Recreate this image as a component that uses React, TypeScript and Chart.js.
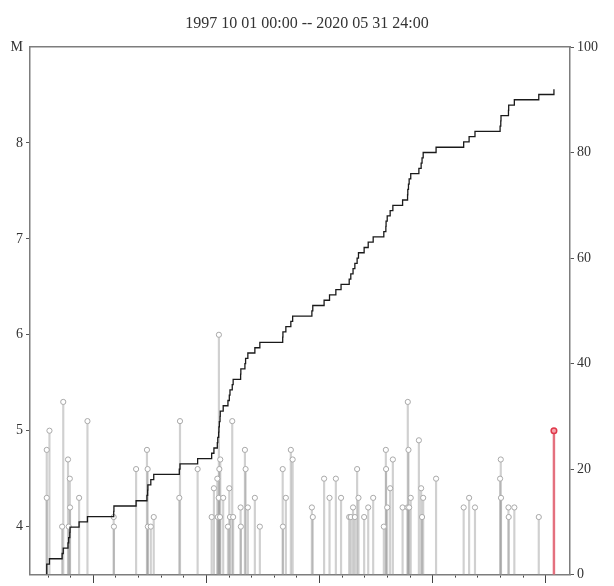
import React, { useEffect, useRef } from 'react';
import { Chart, registerables } from 'chart.js';

Chart.register(...registerables);

const titleText = '1997 10 01 00:00 -- 2020 05 31 24:00';

// Event times (decimal years) and magnitudes
const eventYears = [
  1997.94, 1997.94, 1998.06, 1998.62, 1998.67, 1998.88, 1998.91, 1998.96, 1998.97, 1999.37,
  1999.74, 2000.90, 2000.91, 2001.89, 2002.37, 2002.40, 2002.41, 2002.54, 2002.67, 2003.80,
  2003.83, 2004.61, 2005.23, 2005.33, 2005.48, 2005.50, 2005.54, 2005.55, 2005.57, 2005.60,
  2005.61, 2005.74, 2005.95, 2006.01, 2006.04, 2006.14, 2006.18, 2006.51, 2006.52, 2006.70,
  2006.73, 2006.83, 2007.14, 2007.36, 2008.37, 2008.38, 2008.51, 2008.73, 2008.81, 2009.66,
  2009.70, 2010.20, 2010.44, 2010.72, 2010.95, 2011.31, 2011.38, 2011.48, 2011.56, 2011.66,
  2011.72, 2011.97, 2012.15, 2012.37, 2012.84, 2012.93, 2012.94, 2012.99, 2013.12, 2013.24,
  2013.67, 2013.89, 2013.90, 2013.93, 2013.96, 2014.03, 2014.39, 2014.49, 2014.53, 2014.58,
  2015.15, 2016.37, 2016.61, 2016.87, 2017.98, 2018.01, 2018.02, 2018.35, 2018.36, 2018.61,
  2019.69,
];
const eventMags = [
  4.8, 4.3, 5.0, 4.0, 5.3, 4.7, 4.0, 4.5, 4.2, 4.3,
  5.1, 4.1, 4.0, 4.6, 4.8, 4.6, 4.0, 4.0, 4.1, 4.3,
  5.1, 4.6, 4.1, 4.4, 4.5, 4.1, 4.3, 6.0, 4.6, 4.1,
  4.7, 4.3, 4.0, 4.4, 4.1, 5.1, 4.1, 4.2, 4.0, 4.8,
  4.6, 4.2, 4.3, 4.0, 4.6, 4.0, 4.3, 4.8, 4.7, 4.2,
  4.1, 4.5, 4.3, 4.5, 4.3, 4.1, 4.1, 4.2, 4.1, 4.6,
  4.3, 4.1, 4.2, 4.3, 4.0, 4.8, 4.6, 4.2, 4.4, 4.7,
  4.2, 4.2, 5.3, 4.8, 4.2, 4.3, 4.9, 4.4, 4.1, 4.3,
  4.5, 4.2, 4.3, 4.2, 4.5, 4.7, 4.3, 4.2, 4.1, 4.2,
  4.1,
];
const latestYear = 2020.36;
const latestMag = 5.0;

const magTickValues = [4, 5, 6, 7, 8, 9];
const magTopLabel = 'M';
const countTickValues = [0, 20, 40, 60, 80, 100];
const yearMinorTicks = [
  1998, 1999, 2000, 2001, 2002, 2003, 2004, 2005, 2006, 2007, 2008, 2009,
  2010, 2011, 2012, 2013, 2014, 2015, 2016, 2017, 2018, 2019, 2020,
];
const yearMajorTicks = [2000, 2005, 2010, 2015, 2020];

const yearMin = 1997.2;
const yearMax = 2021.07;
const magMin = 3.5;
const magMax = 9;
const countMin = 0;
const countMax = 100;

const FONT = 'Liberation Serif';
const AXIS_COLOR = '#7d7d7d';
const TEXT_COLOR = '#333333';

export default function App() {
  const canvasRef = useRef<HTMLCanvasElement | null>(null);

  useEffect(() => {
    const canvas = canvasRef.current;
    if (!canvas) return;
    Chart.defaults.font.family = FONT;

    const allYears = [...eventYears, latestYear];
    const cumulative = [
      { x: allYears[0], y: 0 },
      ...allYears.map((t, i) => ({ x: t, y: i + 1 })),
    ];

    const chart = new Chart(canvas, {
      type: 'scatter',
      data: {
        datasets: [
          {
            type: 'line',
            data: cumulative,
            xAxisID: 'x',
            yAxisID: 'yCount',
            borderColor: '#1a1a1a',
            borderWidth: 1.3,
            stepped: 'before',
            pointRadius: 0,
            fill: false,
            order: 0,
          } as any,
          {
            type: 'scatter',
            data: [{ x: latestYear, y: latestMag }],
            xAxisID: 'x',
            yAxisID: 'y',
            pointRadius: 2.8,
            borderWidth: 1.5,
            borderColor: '#e0384a',
            backgroundColor: '#f4a3ab',
            order: 1,
          },
          {
            type: 'scatter',
            data: eventYears.map((t, i) => ({ x: t, y: eventMags[i] })),
            xAxisID: 'x',
            yAxisID: 'y',
            pointRadius: 2.6,
            borderWidth: 1,
            borderColor: '#a9a9a9',
            backgroundColor: '#ffffff',
            order: 2,
          },
          {
            type: 'bar',
            data: [{ x: latestYear, y: [magMin, latestMag] }],
            xAxisID: 'x',
            yAxisID: 'y',
            backgroundColor: '#e4707e',
            barThickness: 1.8,
            grouped: false,
            order: 3,
          } as any,
          {
            type: 'bar',
            data: eventYears.map((t, i) => ({ x: t, y: [magMin, eventMags[i]] })),
            xAxisID: 'x',
            yAxisID: 'y',
            backgroundColor: 'rgba(150,150,150,0.45)',
            barThickness: 1.5,
            grouped: false,
            order: 4,
          } as any,
        ],
      },
      options: {
        animation: false,
        responsive: true,
        maintainAspectRatio: false,
        layout: { padding: 0 },
        events: [],
        plugins: {
          legend: { display: false },
          tooltip: { enabled: false },
          title: {
            display: true,
            text: titleText,
            color: TEXT_COLOR,
            font: { family: FONT, size: 16, weight: 'normal', lineHeight: 1.2 },
            padding: { top: 14, bottom: 13.8 },
          },
        },
        scales: {
          x: {
            type: 'linear',
            position: 'bottom',
            min: yearMin,
            max: yearMax,
            offset: false,
            afterBuildTicks: (s: any) => {
              s.ticks = yearMinorTicks.map((v) => ({ value: v }));
            },
            ticks: { display: false },
            grid: {
              display: true,
              drawOnChartArea: false,
              drawTicks: true,
              tickLength: 3,
              tickColor: '#444444',
              tickWidth: 1,
              offset: false,
            },
            border: { display: true, color: AXIS_COLOR, width: 1.5 },
            afterFit: (s: any) => {
              s.height = 7;
            },
          },
          xMajor: {
            type: 'linear',
            position: { y: magMin },
            min: yearMin,
            max: yearMax,
            offset: false,
            afterBuildTicks: (s: any) => {
              s.ticks = yearMajorTicks.map((v) => ({ value: v }));
            },
            ticks: { display: false },
            grid: {
              display: true,
              drawOnChartArea: false,
              drawTicks: true,
              tickLength: 8,
              tickColor: '#444444',
              tickWidth: 1,
            },
            border: { display: false },
          } as any,
          xTop: {
            type: 'linear',
            position: 'top',
            min: yearMin,
            max: yearMax,
            ticks: { display: false },
            grid: { display: false, drawTicks: false },
            border: { display: true, color: AXIS_COLOR, width: 1.5 },
            afterFit: (s: any) => {
              s.height = 0;
            },
          },
          y: {
            type: 'linear',
            position: 'left',
            min: magMin,
            max: magMax,
            afterBuildTicks: (s: any) => {
              s.ticks = magTickValues.map((v) => ({ value: v }));
            },
            ticks: {
              color: TEXT_COLOR,
              font: { family: FONT, size: 14 },
              padding: 3,
              callback: (v: any) => (Number(v) === magMax ? magTopLabel : String(v)),
            },
            grid: {
              drawOnChartArea: false,
              drawTicks: true,
              tickLength: 4,
              tickWidth: 1,
              tickColor: (ctx: any) =>
                ctx.tick && ctx.tick.value === magMax ? 'rgba(0,0,0,0)' : '#555555',
            },
            border: { display: true, color: AXIS_COLOR, width: 1.5 },
            afterFit: (s: any) => {
              s.width = 30;
            },
          },
          yCount: {
            type: 'linear',
            position: 'right',
            min: countMin,
            max: countMax,
            afterBuildTicks: (s: any) => {
              s.ticks = countTickValues.map((v) => ({ value: v }));
            },
            ticks: {
              color: TEXT_COLOR,
              font: { family: FONT, size: 14 },
              padding: 3,
            },
            grid: {
              drawOnChartArea: false,
              drawTicks: true,
              tickLength: 4,
              tickWidth: 1,
              tickColor: '#555555',
            },
            border: { display: true, color: AXIS_COLOR, width: 1.5 },
            afterFit: (s: any) => {
              s.width = 44;
            },
          },
        },
      } as any,
    });

    return () => {
      chart.destroy();
    };
  }, []);

  return (
    <div
      style={{
        position: 'fixed',
        left: 0,
        top: 0,
        width: 614,
        height: 586,
        background: '#ffffff',
      }}
    >
      <canvas ref={canvasRef} />
    </div>
  );
}
